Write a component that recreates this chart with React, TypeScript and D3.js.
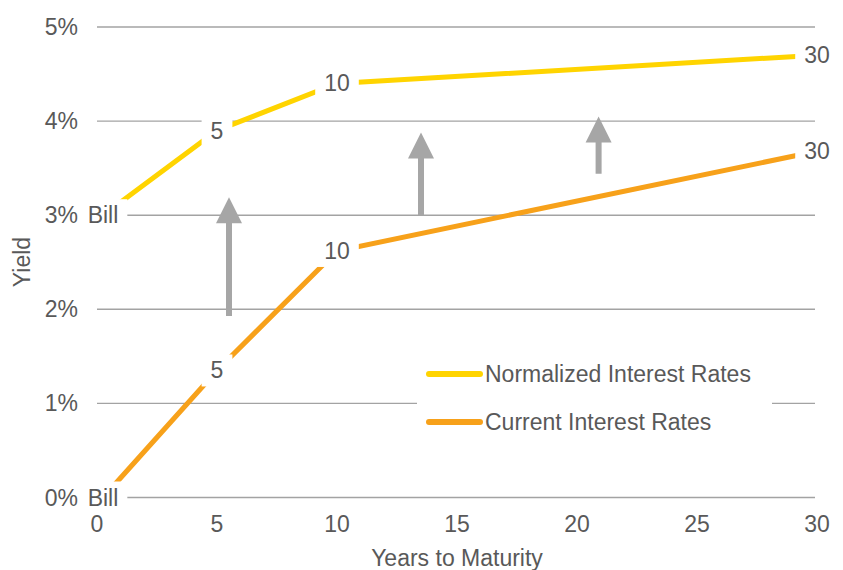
import React from 'react';
import * as d3 from 'd3';

// maturities (years) and point labels
const maturities = [0.25, 5, 10, 30];
const pointLabels = ['Bill', '5', '10', '30'];

// yields in %
const normalizedRates = [3.0, 3.9, 4.4, 4.7];
const currentRates = [0.0, 1.35, 2.62, 3.68];

// grey arrows: x position, start and end yield
const arrowX = [5.5, 13.5, 20.9];
const arrowFrom = [1.93, 3.0, 3.44];
const arrowTo = [3.19, 3.88, 4.05];

const xTicks = [0, 5, 10, 15, 20, 25, 30];
const yTicks = [0, 1, 2, 3, 4, 5];

const seriesNames = ['Normalized Interest Rates', 'Current Interest Rates'];
const seriesColors = ['#FFD400', '#F7A11A'];

const width = 843;
const height = 570;
const font = '"Liberation Sans", Arial, sans-serif';
const fontSize = 23;
const textColor = '#595959';

const x = d3.scaleLinear().domain([0, 30]).range([97, 817]);
const y = d3.scaleLinear().domain([0, 5]).range([497.5, 27]);

// rough Arial advance widths for the labels
const charWidth = (c: string) => {
  if (/[0-9]/.test(c)) return 0.556;
  if (c === 'B') return 0.667;
  if (c === 'i' || c === 'l') return 0.222;
  return 0.5;
};
const textWidth = (s: string) => s.split('').reduce((a, c) => a + charWidth(c), 0) * fontSize;

const App = () => {
  const line = d3.line<number>()
    .x((_, i) => x(maturities[i]))
    .y(d => y(d));

  const series = [normalizedRates, currentRates];

  const arrowPath = (i: number) => {
    const cx = x(arrowX[i]);
    const y0 = y(arrowFrom[i]);
    const y1 = y(arrowTo[i]);
    const sw = 3, hw = 13, hh = 26;
    return `M${cx - sw},${y0} L${cx - sw},${y1 + hh} L${cx - hw},${y1 + hh} L${cx},${y1} L${cx + hw},${y1 + hh} L${cx + sw},${y1 + hh} L${cx + sw},${y0} Z`;
  };

  return (
    <svg width={width} height={height} style={{ position: 'absolute', left: 0, top: 0, background: '#fff' }}>
      {/* grid */}
      {yTicks.map(t => (
        <line key={t} x1={x(0)} x2={815} y1={y(t)} y2={y(t)} stroke="#a3a3a3" strokeWidth={1.4} />
      ))}

      {/* arrows */}
      {arrowX.map((_, i) => (
        <path key={i} d={arrowPath(i)} fill="#a6a6a6" />
      ))}

      {/* series lines */}
      {series.map((s, k) => (
        <path key={k} d={line(s) || ''} fill="none" stroke={seriesColors[k]} strokeWidth={5} />
      ))}

      {/* point labels with white boxes */}
      {series.map((s, k) => s.map((v, i) => {
        const w = textWidth(pointLabels[i]) + 18;
        const cx = x(maturities[i]);
        const cy = y(v);
        return (
          <g key={`${k}-${i}`}>
            <rect x={cx - w / 2} y={cy - 16} width={w} height={32} fill="#fff" />
            <text x={cx} y={cy} textAnchor="middle" dominantBaseline="central"
              fontFamily={font} fontSize={fontSize} fill={textColor}>{pointLabels[i]}</text>
          </g>
        );
      }))}

      {/* legend */}
      <rect x={417} y={345} width={355} height={100} fill="#fff" />
      {seriesNames.map((n, k) => (
        <g key={n} transform={`translate(0, ${374 + k * 48})`}>
          <line x1={429} x2={480} y1={0} y2={0} stroke={seriesColors[k]} strokeWidth={6} strokeLinecap="round" />
          <text x={485} y={0} dominantBaseline="central" fontFamily={font} fontSize={fontSize} fill={textColor}>{n}</text>
        </g>
      ))}

      {/* y tick labels */}
      {yTicks.map(t => (
        <text key={t} x={78} y={y(t)} textAnchor="end" dominantBaseline="central"
          fontFamily={font} fontSize={fontSize} fill={textColor}>{`${t}%`}</text>
      ))}

      {/* x tick labels */}
      {xTicks.map(t => (
        <text key={t} x={x(t)} y={524} textAnchor="middle" dominantBaseline="central"
          fontFamily={font} fontSize={fontSize} fill={textColor}>{t}</text>
      ))}

      {/* axis titles */}
      <text x={457} y={566} textAnchor="middle" fontFamily={font} fontSize={fontSize} fill={textColor}>Years to Maturity</text>
      <text transform="translate(30, 262) rotate(-90)" textAnchor="middle" fontFamily={font} fontSize={fontSize} fill={textColor}>Yield</text>
    </svg>
  );
};

export default App;
